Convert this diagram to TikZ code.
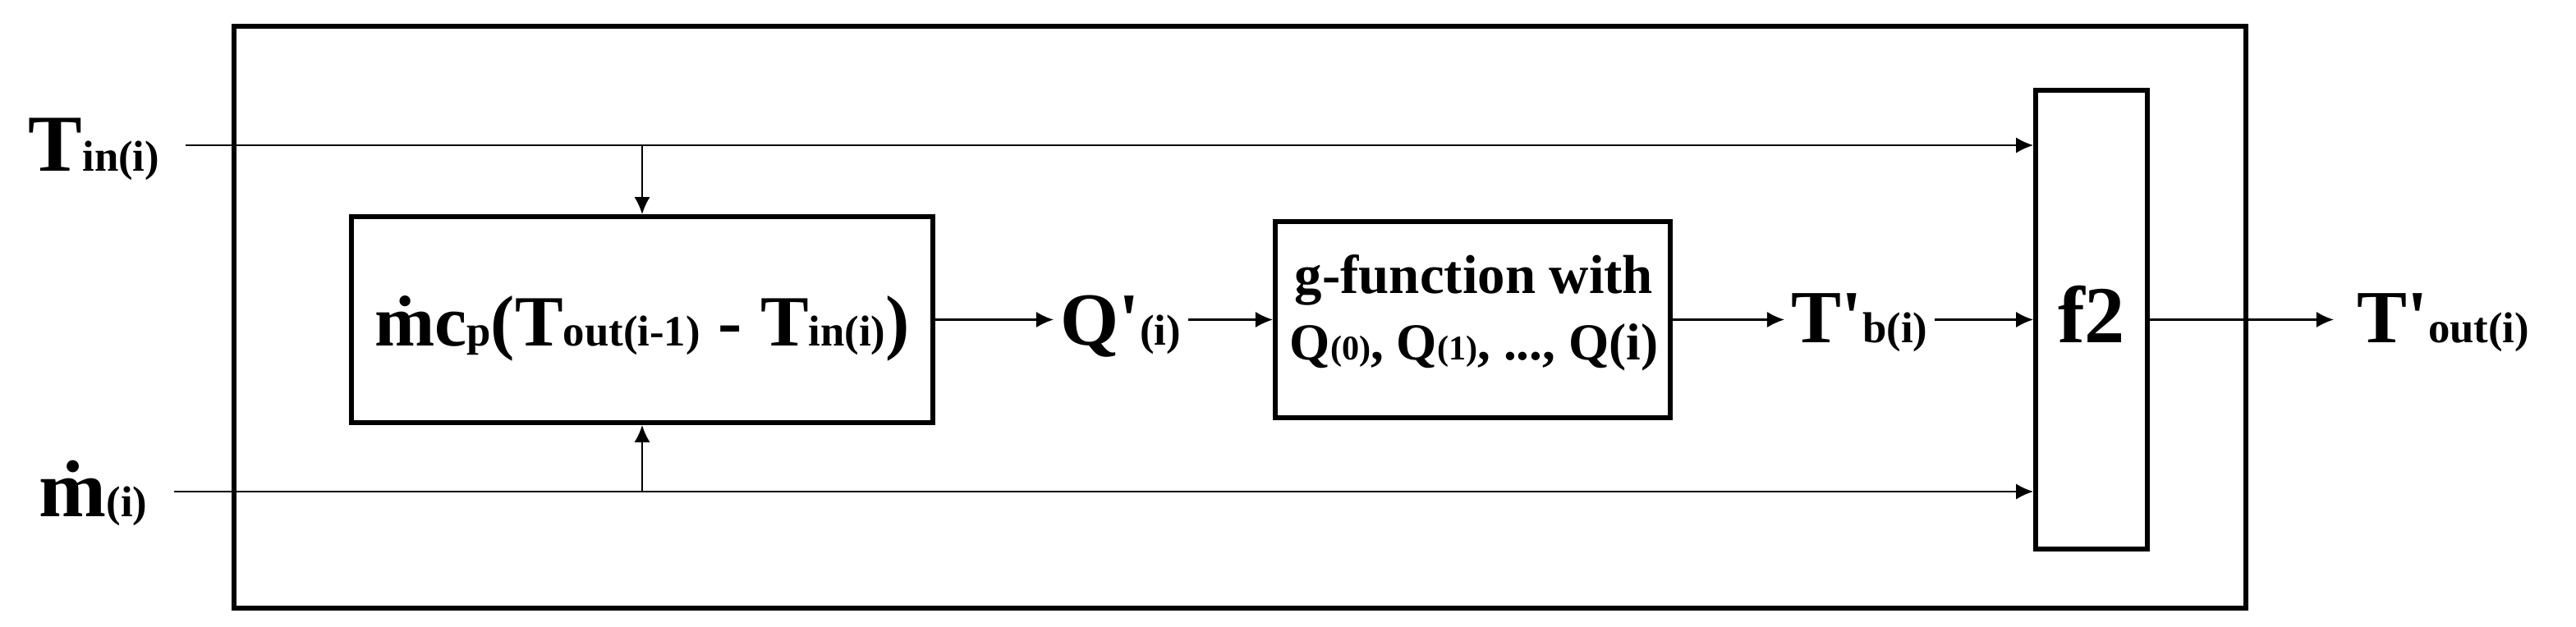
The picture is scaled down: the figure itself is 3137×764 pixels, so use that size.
\documentclass[tikz,border=0pt]{standalone}
\usepackage{fontspec}
\setmainfont{Liberation Serif}
\usetikzlibrary{arrows.meta}
\newcommand\fsz[1]{\fontsize{#1}{#1}\selectfont}
\newcommand\sbs[1]{{\fsz{15}#1}}
\begin{document}
\begin{tikzpicture}[x=0.01cm,y=-0.01cm,
  blk/.style={draw, line width=1.6pt, inner sep=0pt},
  conn/.style={line width=0.7pt, -{Latex[length=6pt,width=5.5pt]}},
  lbl/.style={inner ysep=0pt, inner xsep=0.08cm, font=\bfseries}]
\useasboundingbox (0,0) rectangle (3137,764);
\node[blk, minimum width=24.48cm, minimum height=7.09cm] (outer) at (1510,386.5) {};
\node[blk, minimum width=7.08cm, minimum height=2.51cm] (box1) at (782,389.5) {};
\node[blk, minimum width=4.81cm, minimum height=2.39cm] (box2) at (1793.5,389.5) {};
\node[blk, minimum width=1.36cm, minimum height=5.59cm] (f2) at (2547,389.5) {};
% texts
\node[lbl, anchor=base] (t1) at (782,422) {\fsz{25}\.{m}c\sbs{p}(T\sbs{out(i-1)} - T\sbs{in(i)})};
\node[lbl, anchor=base] (t2a) at (1795,358) {\fsz{19}g-function with};
\node[lbl, anchor=base] (t2b) at (1795,439) {\fsz{18}Q{\fsz{12}(0)}, Q{\fsz{12}(1)}, ..., Q(i)};
\node[lbl, anchor=base] (f2t) at (2547,417) {\fsz{28}f2};
\node[lbl, anchor=base west] (tin) at (26,209) {\fsz{28}T\sbs{in(i)}};
\node[lbl, anchor=base west] (mdot) at (39,629) {\fsz{28}\.{m}\sbs{(i)}};
\node[lbl, anchor=base west] (q) at (1283,420) {\fsz{26}Q\textquotesingle\sbs{(i)}};
\node[lbl, anchor=base west] (tb) at (2173,417) {\fsz{26}T\textquotesingle\sbs{b(i)}};
\node[lbl, anchor=base west] (tout) at (2862,417) {\fsz{26}T\textquotesingle\sbs{out(i)}};
\coordinate (tinS) at (226,177);
\coordinate (mS) at (212,599);
% connectors
\draw[conn] (tinS) -- (tinS -| f2.west);
\draw[conn] (tinS -| box1.north) -- (box1.north);
\draw[conn] (mS) -- (mS -| f2.west);
\draw[conn] (mS -| box1.south) -- (box1.south);
\draw[conn] (box1.east) -- (box1.east -| q.west);
\draw[conn] (box2.west -| q.east) -- (box2.west);
\draw[conn] (box2.east) -- (box2.east -| tb.west);
\draw[conn] (f2.west -| tb.east) -- (f2.west);
\draw[conn, shorten >=0.2cm] (f2.east) -- (f2.east -| tout.west);
\end{tikzpicture}
\end{document}
